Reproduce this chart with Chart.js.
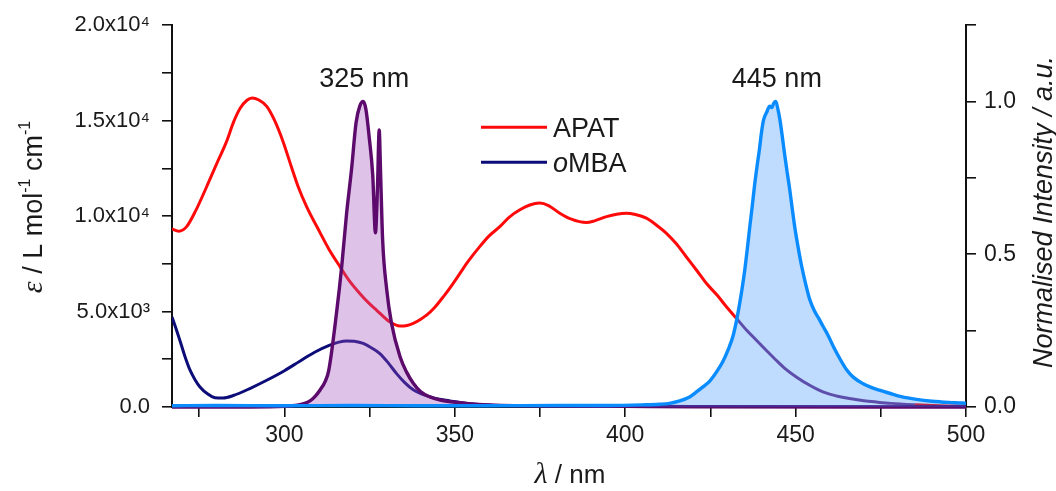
<!DOCTYPE html>
<html>
<head>
<meta charset="utf-8">
<script src="https://cdn.jsdelivr.net/npm/chart.js@4.4.1/dist/chart.umd.min.js"></script>
<style>
  html, body { margin: 0; padding: 0; background: #fff; }
  #wrap { width: 1056px; height: 491px; position: relative; }
</style>
</head>
<body>
<div id="wrap"><canvas id="chart"></canvas></div>
<script>
// ---- Absorption: APAT (wavelength / nm, epsilon / L mol-1 cm-1)
const apatNm = [267, 269, 271.3, 274, 277.2, 280, 283, 285, 287, 289, 290.5, 292.5, 294.8, 297, 299.6, 302, 304, 306.5, 310.4, 313, 316.3, 319, 322.1, 325, 327, 330.9, 333.9, 336, 337.8, 340, 341.7, 344, 346.6, 349, 351.5, 354, 357.3, 360, 363.2, 366, 369.1, 372, 374.9, 377.5, 380.8, 384, 388.6, 391, 394.5, 397.5, 400.3, 403, 406.2, 409, 412.1, 415, 417.9, 421, 423.8, 427, 429.7, 432.6, 435.5, 438.5, 441.5, 444.3, 447, 450.2, 454, 458, 462, 465.8, 470, 473.7, 478, 485, 492, 500];
const apatEps = [9330, 9210, 9450, 10300, 11550, 12700, 13900, 14900, 15650, 16070, 16190, 16080, 15750, 15050, 13900, 12600, 11550, 10500, 9150, 8280, 7350, 6620, 5950, 5400, 5080, 4460, 4240, 4270, 4380, 4600, 4810, 5200, 5770, 6350, 7000, 7650, 8400, 8950, 9450, 9950, 10330, 10580, 10680, 10550, 10150, 9850, 9660, 9750, 9970, 10100, 10150, 10080, 9890, 9550, 9100, 8550, 7870, 7150, 6480, 5850, 5250, 4650, 4050, 3500, 2950, 2450, 2000, 1575, 1150, 790, 580, 440, 330, 260, 190, 120, 70, 40];

// ---- Absorption: oMBA
const ombaNm = [267, 268, 269.3, 270.8, 272.3, 273.8, 275.2, 277.5, 279.6, 282, 285, 290, 294.8, 300, 304.5, 309, 313.3, 316, 318.2, 320.5, 323.1, 325.5, 328, 330.5, 332.9, 335.3, 337.8, 340, 342.7, 345, 348.5, 352, 356, 362, 370, 380, 400, 450, 500];
const ombaEps = [4720, 4200, 3500, 2650, 1930, 1420, 1050, 680, 490, 470, 600, 980, 1400, 1900, 2400, 2880, 3240, 3400, 3460, 3440, 3330, 3100, 2800, 2300, 1750, 1280, 900, 700, 530, 420, 320, 220, 140, 80, 40, 20, 10, 0, 0];

// ---- Emission, normalised: UV band (325 nm)
const emUvNm = [267, 290, 300, 303, 305.4, 307.5, 309, 310.4, 312, 313, 315.3, 316.8, 318.2, 319.7, 321, 322.1, 323.1, 323.9, 324.9, 325.9, 326.7, 327.3, 327.8, 328.2, 328.8, 330, 331.4, 333.9, 335.8, 337.8, 340, 342.7, 346, 351.5, 356, 362, 370, 380, 400, 420, 500];
const emUvI = [0, 0, 0.002, 0.005, 0.01, 0.02, 0.035, 0.055, 0.085, 0.12, 0.31, 0.46, 0.63, 0.78, 0.93, 0.985, 1.0, 0.975, 0.88, 0.76, 0.57, 0.72, 0.907, 0.77, 0.55, 0.385, 0.275, 0.165, 0.115, 0.078, 0.05, 0.033, 0.022, 0.014, 0.009, 0.006, 0.004, 0.003, 0.002, 0.001, 0];

// ---- Emission, normalised: blue band (445 nm)
const emBlueNm = [267, 280, 300, 320, 340, 360, 380, 395, 405, 410, 413, 416, 418.9, 421, 422.7, 424.8, 426.8, 428.7, 430.3, 431.7, 432.7, 433.6, 434.4, 435.1, 435.8, 436.5, 437.3, 438, 438.7, 439.4, 440, 440.6, 441.5, 442.4, 443, 443.6, 444.2, 444.8, 445.4, 446.1, 446.8, 447.5, 448.3, 449, 449.8, 450.7, 451.7, 452.9, 454.2, 455.5, 456.8, 458, 459.5, 461, 463, 464.9, 467, 469.7, 472, 474.6, 477.6, 481, 485.5, 490, 495, 499, 500];
const emBlueI = [0.004, 0.005, 0.004, 0.005, 0.004, 0.004, 0.005, 0.005, 0.007, 0.009, 0.012, 0.02, 0.033, 0.05, 0.065, 0.085, 0.115, 0.15, 0.19, 0.235, 0.285, 0.34, 0.395, 0.45, 0.515, 0.585, 0.66, 0.73, 0.79, 0.845, 0.9, 0.94, 0.965, 0.985, 0.98, 0.995, 1.0, 0.975, 0.94, 0.885, 0.825, 0.77, 0.71, 0.65, 0.585, 0.525, 0.465, 0.405, 0.35, 0.315, 0.29, 0.265, 0.235, 0.2, 0.158, 0.123, 0.097, 0.077, 0.065, 0.055, 0.045, 0.034, 0.025, 0.019, 0.015, 0.013, 0.012];

// ---- Axes
const xTicks = [275, 300, 325, 350, 375, 400, 425, 450, 475, 500];
const epsTicks = [0, 2500, 5000, 7500, 10000, 12500, 15000, 17500, 20000];
const intTicks = [0, 0.25, 0.5, 0.75, 1.0, 1.25];
const seriesNames = ['APAT', 'oMBA'];
const peakLabels = ['325 nm', '445 nm'];

const SANS = '"Liberation Sans", Arial, Helvetica, sans-serif';
const SERIF = '"Liberation Serif", "Times New Roman", serif';
const TEXT = '#1a1a1a';

const pts = (xs, ys) => xs.map((x, i) => ({ x: x, y: ys[i] }));

function interp(xs, ys, x) {
  if (x <= xs[0]) return ys[0];
  for (let i = 1; i < xs.length; i++) {
    if (x <= xs[i]) {
      const t = (x - xs[i - 1]) / (xs[i] - xs[i - 1]);
      return ys[i - 1] + t * (ys[i] - ys[i - 1]);
    }
  }
  return ys[ys.length - 1];
}

const SUP = { '0': '\u2070', '1': '\u00B9', '2': '\u00B2', '3': '\u00B3', '4': '\u2074', '5': '\u2075', '6': '\u2076', '7': '\u2077', '8': '\u2078', '9': '\u2079', '-': '\u207B' };
function sciLabel(v) {
  if (v === 0) return '0.0';
  const e = Math.floor(Math.log10(v));
  const m = v / Math.pow(10, e);
  return m.toFixed(1) + 'x10' + String(e).split('').map(c => SUP[c]).join('');
}

// APAT line looks tinted where the blue emission band covers it
function apatUnderBlue(ctx) {
  const ch = ctx.chart;
  const yR = ch.scales.yR;
  const xs = ch.scales.x;
  if (!yR || !xs) return undefined;
  const midX = (ctx.p0.x + ctx.p1.x) / 2;
  const midY = (ctx.p0.y + ctx.p1.y) / 2;
  const nm = xs.getValueForPixel(midX);
  const em = interp(emBlueNm, emBlueI, nm);
  if (em > 0.03 && yR.getPixelForValue(em) < midY - 1) return '#7b3d8e';
  return undefined;
}

// Free-form text pieces (axis titles, peak labels, legend)
function drawRuns(ctx, runs, x, y, align) {
  let total = 0;
  runs.forEach(r => { ctx.font = r.font; r.w = ctx.measureText(r.t).width; total += r.w; });
  let cx = align === 'center' ? x - total / 2 : x;
  runs.forEach(r => {
    ctx.font = r.font;
    ctx.fillText(r.t, cx, y + (r.dy || 0));
    cx += r.w;
  });
}

const annotations = {
  id: 'annotations',
  afterDraw(chart) {
    const ctx = chart.ctx;
    const area = chart.chartArea;
    const xs = chart.scales.x;
    const yR = chart.scales.yR;
    ctx.save();
    ctx.fillStyle = TEXT;
    ctx.textBaseline = 'alphabetic';
    ctx.textAlign = 'left';

    // peak labels above each emission band maximum
    [[emUvNm, emUvI], [emBlueNm, emBlueI]].forEach((s, k) => {
      let im = 0;
      s[1].forEach((v, i) => { if (v > s[1][im]) im = i; });
      const px = xs.getPixelForValue(s[0][im]);
      const py = yR.getPixelForValue(s[1][im]);
      drawRuns(ctx, [{ t: peakLabels[k], font: '27px ' + SANS }], px + 1, py - 15, 'center');
    });

    // legend
    const ds = chart.data.datasets;
    const lx = area.left + 309, ly = area.top + 102;
    seriesNames.forEach((name, i) => {
      const d = ds.find(q => q.label === name);
      const yy = ly + i * 35;
      ctx.strokeStyle = d.borderColor;
      ctx.lineWidth = 3;
      ctx.beginPath();
      ctx.moveTo(lx, yy);
      ctx.lineTo(lx + 66, yy);
      ctx.stroke();
      const runs = name.startsWith('o')
        ? [{ t: 'o', font: 'italic 27px ' + SANS }, { t: name.slice(1), font: '27px ' + SANS }]
        : [{ t: name, font: '27px ' + SANS }];
      drawRuns(ctx, runs, lx + 72, yy + 10, 'left');
    });

    // x title
    const xc = (area.left + area.right) / 2;
    drawRuns(ctx, [
      { t: '\u03BB', font: 'italic 30px ' + SERIF },
      { t: ' / nm', font: '26px ' + SANS }
    ], xc + 1, 483, 'center');

    // left title (rotated)
    ctx.save();
    ctx.translate(42, 207);
    ctx.rotate(-Math.PI / 2);
    drawRuns(ctx, [
      { t: '\u03B5', font: 'italic 30px ' + SERIF },
      { t: ' / L mol', font: '27px ' + SANS },
      { t: '-1', font: '16px ' + SANS, dy: -12 },
      { t: ' cm', font: '27px ' + SANS },
      { t: '-1', font: '16px ' + SANS, dy: -12 }
    ], 0, 0, 'center');
    ctx.restore();

    // right title (rotated)
    ctx.save();
    ctx.translate(1052, 212);
    ctx.rotate(-Math.PI / 2);
    drawRuns(ctx, [{ t: 'Normalised Intensity / a.u.', font: 'italic 27px ' + SANS }], 0, 0, 'center');
    ctx.restore();

    ctx.restore();
  }
};

const axisStyle = {
  grid: { drawOnChartArea: false, drawTicks: true, tickLength: 10, color: '#111', lineWidth: 1.6 },
  border: { display: true, color: '#111', width: 2 }
};

new Chart(document.getElementById('chart'), {
  type: 'line',
  data: {
    datasets: [
      {
        label: '445 nm emission',
        data: pts(emBlueNm, emBlueI),
        yAxisID: 'yR',
        borderColor: '#0a8cff',
        backgroundColor: 'rgba(20, 125, 250, 0.27)',
        fill: 'origin',
        borderWidth: 3.4,
        order: 0,
        clip: false
      },
      {
        label: '325 nm emission',
        data: pts(emUvNm, emUvI),
        yAxisID: 'yR',
        borderColor: '#5c0a6c',
        backgroundColor: 'rgba(160, 80, 190, 0.35)',
        fill: 'origin',
        borderWidth: 3.4,
        order: 1,
        clip: false
      },
      {
        label: seriesNames[1],
        data: pts(ombaNm, ombaEps),
        yAxisID: 'y',
        borderColor: '#0c0c78',
        borderWidth: 3,
        fill: false,
        order: 2
      },
      {
        label: seriesNames[0],
        data: pts(apatNm, apatEps),
        yAxisID: 'y',
        borderColor: '#ff0a0a',
        borderWidth: 3,
        fill: false,
        order: 3,
        segment: { borderColor: apatUnderBlue }
      }
    ]
  },
  options: {
    responsive: true,
    maintainAspectRatio: false,
    animation: false,
    events: [],
    elements: {
      point: { radius: 0 },
      line: { cubicInterpolationMode: 'monotone', capBezierPoints: true }
    },
    layout: { padding: { top: 25, left: 0, right: 0, bottom: 0 } },
    plugins: { legend: { display: false }, tooltip: { enabled: false } },
    scales: {
      x: {
        type: 'linear',
        min: 267,
        max: 500,
        afterBuildTicks: s => { s.ticks = xTicks.map(v => ({ value: v })); },
        afterFit: s => { s.height = 84; },
        ticks: {
          autoSkip: false, maxRotation: 0, padding: 5, color: TEXT,
          font: { family: SANS, size: 23 },
          callback: v => (v % 50 === 0 ? String(v) : '')
        },
        ...axisStyle
      },
      y: {
        type: 'linear',
        position: 'left',
        min: 0,
        max: 20000,
        afterBuildTicks: s => { s.ticks = epsTicks.map(v => ({ value: v })); },
        afterFit: s => { s.width = 172; },
        ticks: {
          autoSkip: false, padding: 12, color: TEXT,
          font: { family: SANS, size: 22 },
          callback: v => (v % 5000 === 0 ? sciLabel(v) : '')
        },
        ...axisStyle
      },
      yR: {
        type: 'linear',
        position: 'right',
        min: 0,
        max: 1.25,
        afterBuildTicks: s => { s.ticks = intTicks.map(v => ({ value: v })); },
        afterFit: s => { s.width = 90; },
        ticks: {
          autoSkip: false, padding: 8, color: TEXT,
          font: { family: SANS, size: 23 },
          callback: v => (Math.abs(v * 2 - Math.round(v * 2)) < 1e-9 ? v.toFixed(1) : '')
        },
        ...axisStyle
      }
    }
  },
  plugins: [annotations]
});
</script>
</body>
</html>
